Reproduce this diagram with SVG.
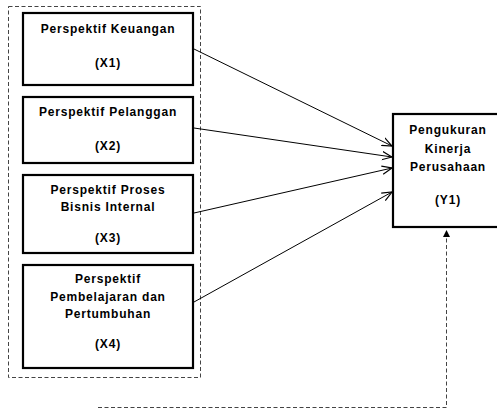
<svg xmlns="http://www.w3.org/2000/svg" width="497" height="409" viewBox="0 0 497 409">
<style>
.box{fill:#fff;stroke:#000;stroke-width:2.2}
.t{font-family:"Liberation Sans",Arial,sans-serif;font-weight:bold;font-size:12px;text-anchor:middle;fill:#000;letter-spacing:0.8px}
.c{stroke:#000;stroke-width:1;fill:none}
.d{stroke:#444;stroke-width:1;fill:none;stroke-dasharray:4 2.5}
</style>
<defs>
<marker id="open" viewBox="0 0 10 10" refX="10" refY="5" markerWidth="10" markerHeight="10" markerUnits="userSpaceOnUse" orient="auto">
<path d="M0,0.8 L10,5 L0,9.2" fill="none" stroke="#000" stroke-width="1.2"/>
</marker>
<marker id="fill" viewBox="0 0 10 10" refX="5" refY="0" markerWidth="7" markerHeight="7" markerUnits="userSpaceOnUse" orient="0">
<path d="M0,10 L5,0 L10,10 Z" fill="#000"/>
</marker>
</defs>
<rect class="d" x="8.5" y="6.5" width="192" height="371"/>
<g id="connectors">
<line class="c" x1="194" y1="49" x2="392" y2="146" marker-end="url(#open)"/>
<line class="c" x1="194" y1="128" x2="392" y2="157" marker-end="url(#open)"/>
<line class="c" x1="194" y1="213" x2="392" y2="168" marker-end="url(#open)"/>
<line class="c" x1="194" y1="302" x2="392" y2="192" marker-end="url(#open)"/>
<path class="d" d="M98,407.5 H446.5 V230" marker-end="url(#fill)"/>
</g>
<g id="x1">
<rect class="box" x="23" y="13" width="170" height="72"/>
<text class="t" x="108" y="33">Perspektif Keuangan</text>
<text class="t" x="108" y="67">(X1)</text>
</g>
<g id="x2">
<rect class="box" x="23" y="97" width="170" height="66"/>
<text class="t" x="108" y="116">Perspektif Pelanggan</text>
<text class="t" x="108" y="150">(X2)</text>
</g>
<g id="x3">
<rect class="box" x="23" y="175" width="170" height="78"/>
<text class="t" x="108" y="194">Perspektif Proses</text>
<text class="t" x="108" y="211">Bisnis Internal</text>
<text class="t" x="108" y="242">(X3)</text>
</g>
<g id="x4">
<rect class="box" x="23" y="265" width="170" height="103"/>
<text class="t" x="108" y="283">Perspektif</text>
<text class="t" x="108" y="301">Pembelajaran dan</text>
<text class="t" x="108" y="318">Pertumbuhan</text>
<text class="t" x="108" y="348">(X4)</text>
</g>
<g id="y1">
<rect class="box" x="393" y="114" width="112" height="113"/>
<text class="t" x="448" y="134">Pengukuran</text>
<text class="t" x="448" y="153">Kinerja</text>
<text class="t" x="448" y="171">Perusahaan</text>
<text class="t" x="448" y="204">(Y1)</text>
</g>
</svg>
